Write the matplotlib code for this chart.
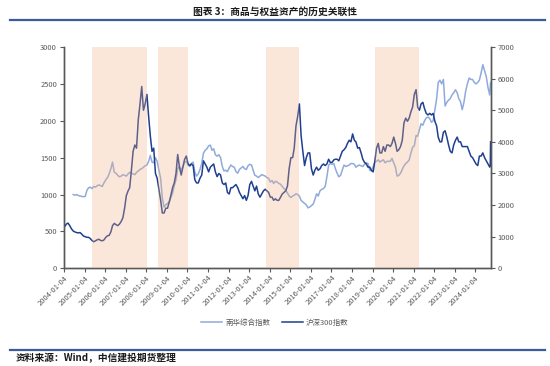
import matplotlib
matplotlib.use("Agg")
import matplotlib.pyplot as plt
import matplotlib.dates as mdates
from matplotlib.lines import Line2D
import pandas as pd
import numpy as np

plt.rcParams['font.family'] = ['Noto Sans CJK SC', 'DejaVu Sans']

# ---------------- data ----------------
title = "图表 3：商品与权益资产的历史关联性"
source = "资料来源：Wind，中信建投期货整理"
label_nh = "南华综合指数"
label_hs = "沪深300指数"

# 沪深300指数 (right axis), monthly levels 2004-01 .. 2024-09
hs300_monthly = [
    1320, 1400, 1430, 1350, 1250, 1180, 1150, 1130, 1120, 1130, 1080, 1020,  # 2004
    1000, 980, 980, 940, 880, 840, 870, 900, 920, 880, 870, 900,  # 2005
    980, 1030, 1040, 1150, 1350, 1420, 1380, 1350, 1400, 1480, 1600, 1900,  # 2006
    2300, 2450, 2550, 3100, 3700, 3900, 3800, 4700, 5200, 5750, 5000, 5200,  # 2007
    5500, 4800, 4200, 3700, 3800, 3000, 2850, 2500, 2150, 1750, 1750, 1900,  # 2008
    1900, 2100, 2300, 2550, 2700, 3000, 3600, 3200, 2950, 3200, 3450, 3550,  # 2009
    3300, 3250, 3300, 3250, 2800, 2700, 2700, 2850, 2950, 3400, 3300, 3200,  # 2010
    3050, 3200, 3250, 3300, 3050, 2900, 3000, 2950, 2700, 2650, 2700, 2400,  # 2011
    2350, 2550, 2550, 2600, 2650, 2550, 2400, 2300, 2200, 2300, 2150, 2300,  # 2012
    2650, 2750, 2600, 2450, 2600, 2350, 2250, 2350, 2450, 2500, 2450, 2400,  # 2013
    2250, 2250, 2150, 2200, 2150, 2150, 2250, 2350, 2400, 2450, 2600, 3150,  # 2014
    3500, 3500, 3800, 4500, 4800, 5200, 4200, 3700, 3250, 3500, 3650, 3650,  # 2015
    3150, 2950, 3100, 3200, 3100, 3150, 3250, 3300, 3250, 3300, 3450, 3350,  # 2016
    3350, 3430, 3450, 3450, 3400, 3550, 3700, 3750, 3820, 3950, 4050, 4000,  # 2017
    4250, 4050, 4000, 3800, 3820, 3650, 3450, 3350, 3300, 3200, 3200, 3100,  # 2018
    3050, 3400, 3800, 3950, 3650, 3650, 3850, 3700, 3900, 3900, 3850, 3950,  # 2019
    4150, 3950, 3700, 3750, 3850, 4050, 4600, 4750, 4650, 4750, 4950, 5100,  # 2020
    5500, 5650, 5100, 5000, 5200, 5250, 5050, 4900, 4850, 4900, 4850, 4900,  # 2021
    4650, 4500, 4150, 4000, 4000, 4300, 4350, 4150, 3900, 3700, 3650, 3900,  # 2022
    4050, 4150, 4000, 4000, 3850, 3850, 3850, 3850, 3700, 3550, 3500, 3400,  # 2023
    3300, 3250, 3550, 3550, 3650, 3500, 3400, 3300, 3200,                    # 2024
]
hs300_end_dates = ["2024-09-24", "2024-09-30"]
hs300_end_values = [3250, 4000]

# 南华综合指数 (left axis), monthly levels 2004-06 .. 2024-09
nh_monthly = [
    1000, 990, 1000, 985, 980, 975, 970,  # 2004 (Jun-Dec)
    975, 1060, 1090, 1100, 1080, 1110, 1100, 1120, 1130, 1120, 1110, 1160,  # 2005
    1200, 1230, 1280, 1350, 1440, 1300, 1290, 1260, 1240, 1250, 1270, 1260,  # 2006
    1250, 1280, 1300, 1290, 1280, 1270, 1300, 1320, 1340, 1350, 1370, 1390,  # 2007
    1400, 1450, 1530, 1440, 1430, 1500, 1450, 1330, 1220, 950, 830, 860,  # 2008
    880, 900, 960, 1020, 1120, 1200, 1350, 1380, 1330, 1380, 1440, 1450,  # 2009
    1400, 1380, 1420, 1440, 1300, 1250, 1280, 1340, 1420, 1560, 1600, 1620,  # 2010
    1660, 1670, 1600, 1620, 1540, 1520, 1540, 1500, 1380, 1320, 1330, 1310,  # 2011
    1360, 1400, 1380, 1370, 1310, 1290, 1340, 1360, 1380, 1350, 1340, 1390,  # 2012
    1410, 1400, 1330, 1260, 1250, 1230, 1250, 1270, 1260, 1250, 1230, 1220,  # 2013
    1170, 1190, 1150, 1180, 1170, 1150, 1140, 1110, 1080, 1060, 1020, 980,  # 2014
    960, 980, 990, 1010, 1000, 980, 920, 900, 880, 860, 820, 830,  # 2015
    850, 870, 930, 1010, 980, 1050, 1070, 1080, 1110, 1240, 1400, 1420,  # 2016
    1410, 1420, 1350, 1290, 1240, 1260, 1330, 1400, 1380, 1390, 1400, 1420,  # 2017
    1420, 1410, 1370, 1390, 1400, 1390, 1380, 1410, 1430, 1420, 1330, 1320,  # 2018
    1380, 1440, 1450, 1470, 1440, 1460, 1470, 1430, 1450, 1450, 1450, 1490,  # 2019
    1430, 1370, 1250, 1260, 1290, 1340, 1390, 1420, 1440, 1470, 1560, 1640,  # 2020
    1660, 1800, 1790, 1880, 1960, 1940, 2000, 2040, 2050, 2030, 1980, 2000,  # 2021
    2150, 2300, 2520, 2550, 2500, 2560, 2200, 2250, 2280, 2300, 2350, 2380,  # 2022
    2420, 2380, 2300, 2260, 2150, 2250, 2400, 2500, 2580, 2560, 2560, 2520,  # 2023
    2500, 2520, 2550, 2650, 2760, 2680, 2600, 2450, 2350,                    # 2024
]
nh_end_dates = ["2024-09-30"]
nh_end_values = [2520]

# shaded periods
shade_starts = ["2005-05-18", "2008-08-04", "2013-10-23", "2019-02-20"]
shade_ends = ["2008-01-20", "2010-01-20", "2015-06-06", "2021-04-08"]

tick_dates = [f"{y}-01-04" for y in range(2004, 2025)]
left_ticks = [0, 500, 1000, 1500, 2000, 2500, 3000]
right_ticks = [0, 1000, 2000, 3000, 4000, 5000, 6000, 7000]

# ---------------- build series ----------------
hs_dates = pd.date_range("2004-01-01", periods=len(hs300_monthly), freq="MS") + pd.Timedelta(days=14)
hs_dates = hs_dates.append(pd.to_datetime(hs300_end_dates))
hs_vals = list(hs300_monthly) + hs300_end_values
hs_dates = hs_dates.insert(0, pd.Timestamp("2004-01-05"))
hs_vals = [1310] + hs_vals

nh_dates = pd.date_range("2004-06-01", periods=len(nh_monthly), freq="MS") + pd.Timedelta(days=14)
nh_dates = nh_dates.append(pd.to_datetime(nh_end_dates))
nh_vals = list(nh_monthly) + nh_end_values

# ---------------- figure ----------------
W, H = 550, 366
fig = plt.figure(figsize=(W / 100, H / 100), dpi=100)
L, R, T, B = 64, 490.7, 47, 268.3
ax = fig.add_axes([L / W, 1 - B / H, (R - L) / W, (B - T) / H])
ax2 = ax.twinx()

c_light = "#8FAADC"
c_dark = "#1F3F8F"
c_axis = "#595959"

ax.plot(nh_dates, nh_vals, color=c_light, lw=1.1, zorder=2)
ax2.plot(hs_dates, hs_vals, color=c_dark, lw=1.1, zorder=2)

for s, e in zip(shade_starts, shade_ends):
    ax2.axvspan(pd.Timestamp(s), pd.Timestamp(e), color="#F4B183", alpha=0.3, lw=0, zorder=3)

ax.set_ylim(0, 3000)
ax2.set_ylim(0, 7000)
ax.set_yticks(left_ticks)
ax2.set_yticks(right_ticks)
ax.set_xlim(pd.Timestamp("2004-01-04"), pd.Timestamp("2024-10-02"))

ax.set_xticks(pd.to_datetime(tick_dates))
ax.set_xticklabels(tick_dates, rotation=45, ha="right", rotation_mode="anchor",
                   fontsize=5.2, color=c_axis)

for a in (ax, ax2):
    for sp in a.spines.values():
        sp.set_color(c_axis)
        sp.set_linewidth(1.0)
    a.spines["top"].set_visible(False)
    a.tick_params(axis="both", direction="out", length=3, width=0.8, colors=c_axis,
                  labelsize=5.4, pad=2)
ax.tick_params(axis="x", pad=1)

# legend
handles = [Line2D([], [], color=c_light, lw=1.1), Line2D([], [], color=c_dark, lw=1.1)]
fig.legend(handles, [label_nh, label_hs], loc="center", bbox_to_anchor=(0.5, 1 - 323 / H),
           ncol=2, frameon=False, fontsize=5.4, handlelength=2.8, columnspacing=1.6,
           handletextpad=0.4, labelcolor=c_axis)

# title and lines
fig.text(0.5, 1 - 12 / H, title, ha="center", va="center", fontsize=7, fontweight="bold",
         color="#1a1a1a")
fig.add_artist(Line2D([10 / W, 545 / W], [1 - 20 / H] * 2, color="#3A5B9C", lw=1.6))
fig.add_artist(Line2D([10 / W, 545 / W], [1 - 349.5 / H] * 2, color="#3A5B9C", lw=1.6))
fig.text(16 / W, 1 - 358.5 / H, source, ha="left", va="center", fontsize=7,
         fontweight="bold", fontstyle="italic", color="#1a1a1a")

fig.savefig("out.png", dpi=100)
